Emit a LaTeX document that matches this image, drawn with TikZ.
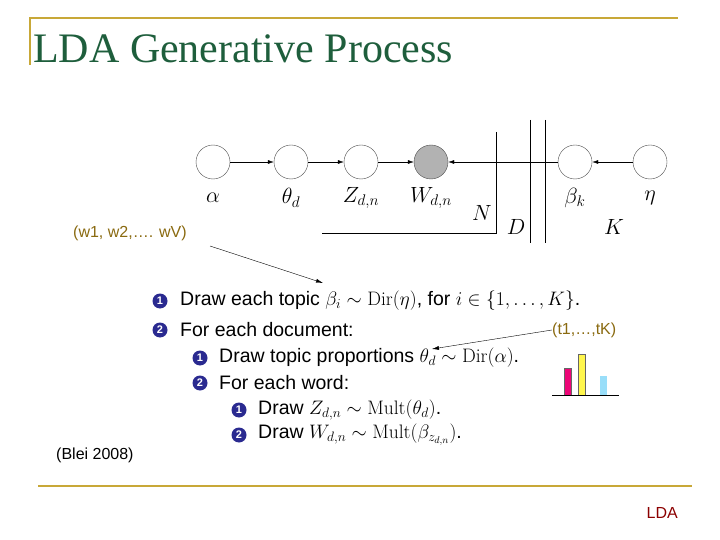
\documentclass[tikz,border=0pt]{standalone}
\usepackage{fontspec}
\usepackage{fix-cm}
\newfontfamily\arial{Liberation Sans}
\newfontfamily\tnr{Liberation Serif}
\usetikzlibrary{arrows.meta}
\definecolor{gold}{HTML}{C8A838}
\definecolor{ttl}{HTML}{1E5E3C}
\definecolor{lab}{HTML}{8A6A10}
\definecolor{bul}{HTML}{2A2A90}
\tikzset{
 var/.style={circle,draw=black!70,thin,minimum size=34pt,inner sep=0pt},
 obs/.style={var,fill=black!30},
 vlab/.style={font=\fontsize{22}{22}\selectfont},
 edge/.style={-{Latex[length=6pt,width=4pt]},thin},
 plate/.style={black,thin},
 item/.style={anchor=west,inner sep=0pt,font=\arial\fontsize{19.5}{19.5}\selectfont},
 bnum/.style={circle,fill=bul,text=white,inner sep=0pt,minimum size=15pt,font=\arial\bfseries\fontsize{11}{11}\selectfont},
 note/.style={text=lab,font=\arial\fontsize{16}{16}\selectfont,inner sep=0pt},
 ptr/.style={-{Latex[length=7pt,width=4pt]},thin}
}
\begin{document}
\begin{tikzpicture}[x=1pt,y=-1pt]
\useasboundingbox[fill=white] (0,0) rectangle (720,540);
\draw[gold,line width=1.5pt] (30,65) -- (30,18) -- (678,18);
\node[anchor=base west,text=ttl,font=\tnr\fontsize{42}{42}\selectfont,inner sep=0pt] (title) at (33,63) {LDA Generative Process};
\draw[gold,line width=1.5pt] (38,486) -- (692,486);
\node[anchor=base east,text=red!55!black,font=\arial\fontsize{16}{16}\selectfont,inner sep=0pt] (lda) at (678,518) {LDA};
\node[anchor=base west,font=\arial\fontsize{16}{16}\selectfont,inner sep=0pt] (blei) at (56,459) {(Blei 2008)};
% graphical model
\node[var] (a) at (213,162) {};
\node[var] (t) at (291,162) {};
\node[var] (z) at (361,162) {};
\node[obs] (w) at (431,162) {};
\node[var] (b) at (575,162) {};
\node[var] (e) at (650,162) {};
\node[vlab] (la) at (213,198) {$\alpha$};
\node[vlab] (lt) at (291,198) {$\theta_d$};
\node[vlab] (lz) at (361,198) {$Z_{d,n}$};
\node[vlab] (lw) at (431,198) {$W_{d,n}$};
\node[vlab] (lb) at (575,198) {$\beta_k$};
\node[vlab] (le) at (650,198) {$\eta$};
\draw[edge] (a) -- (t);
\draw[edge] (t) -- (z);
\draw[edge] (z) -- (w);
\draw[edge] (b) -- (w);
\draw[edge] (e) -- (b);
\coordinate (n1) at (496,132); \coordinate (n2) at (496,233); \coordinate (n3) at (322,233);
\draw[plate] (n1) -- (n2) -- (n3);
\coordinate (d1) at (530,120); \coordinate (d2) at (530,243);
\coordinate (k1) at (545,120); \coordinate (k2) at (545,243);
\draw[plate] (d1) -- (d2);
\draw[plate] (k1) -- (k2);
\node[vlab] (lN) at (482,213) {$N$};
\node[vlab] (lD) at (516,227) {$D$};
\node[vlab] (lK) at (614,227) {$K$};
% list
\node[bnum] (b1) at (160,301) {1};
\node[item] (i1) at (180,301) {Draw each topic $\beta_i \sim \mathrm{Dir}(\eta)$, for $i \in \{1,\ldots,K\}$.};
\node[bnum] (b2) at (160,330) {2};
\node[item] (i2) at (180,330) {For each document:};
\node[bnum] (b21) at (200,358) {1};
\node[item] (i21) at (219,358) {Draw topic proportions $\theta_d \sim \mathrm{Dir}(\alpha)$.};
\node[bnum] (b22) at (200,383) {2};
\node[item] (i22) at (219,383) {For each word:};
\node[bnum] (b221) at (239,410) {1};
\node[item] (i221) at (258,410) {Draw $Z_{d,n} \sim \mathrm{Mult}(\theta_d)$.};
\node[bnum] (b222) at (239,435) {2};
\node[item] (i222) at (258,435) {Draw $W_{d,n} \sim \mathrm{Mult}(\beta_{z_{d,n}})$.};
% notes
\node[note,anchor=west] (wv) at (73,233) {(w1, w2,…. wV)};
\coordinate (wv0) at (210,246); \coordinate (wv1) at (323,283);
\draw[ptr] (wv0) -- (wv1);
\node[note,anchor=west] (tk) at (552,330) {(t1,…,tK)};
\coordinate (tk1) at (432,349);
\draw[ptr] (tk.west) -- (tk1);
% bars
\fill[magenta!80!red] (564,368) rectangle (571,395);
\fill[yellow!70!white] (578,354) rectangle (585,395);
\draw[black!60,thin] (578,354) rectangle (585,395);
\draw[black!60,thin] (564,368) rectangle (571,395);
\fill[cyan!40] (600,376) rectangle (607,395);
\coordinate (bl0) at (552,395); \coordinate (bl1) at (619,395);
\draw[thin] (bl0) -- (bl1);
\end{tikzpicture}
\end{document}
